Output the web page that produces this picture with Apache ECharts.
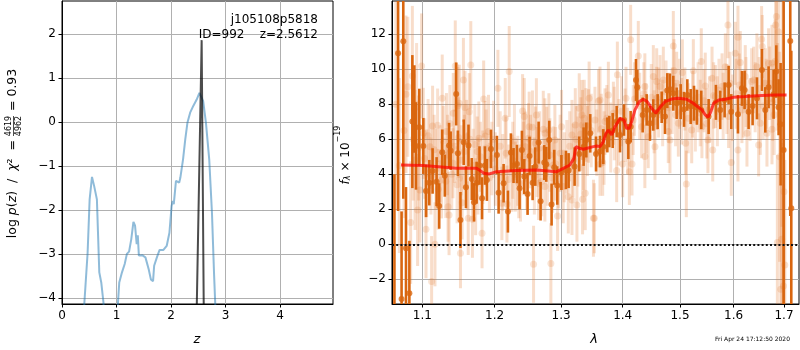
<!DOCTYPE html>
<html><head><meta charset="utf-8">
<script src="https://cdn.jsdelivr.net/npm/echarts@6/dist/echarts.min.js"></script>
<style>html,body{margin:0;padding:0;background:#fff}#c{width:800px;height:350px}</style>
</head><body><div id="c"></div>
<script>
// ---------- left panel: redshift probability ----------
const zTicks = [0, 1, 2, 3, 4];
const logpTicks = [-4, -3, -2, -1, 0, 1, 2];
const zPz = [0.39,0.47,0.507,0.55,0.59,0.64,0.684,0.72,0.76,0.80,1.00,1.026,1.05,1.10,1.15,1.19,1.23,1.27,1.31,1.34,1.37,1.39,1.41,1.47,1.53,1.59,1.63,1.67,1.69,1.74,1.79,1.86,1.92,1.97,2.01,2.03,2.05,2.09,2.12,2.15,2.17,2.22,2.26,2.30,2.35,2.41,2.47,2.52,2.55,2.59,2.64,2.70,2.75,2.79,2.81,2.83];
const logPz = [-4.5,-2.97,-1.76,-1.25,-1.46,-1.76,-3.42,-3.65,-4.1,-5.0,-5.0,-4.12,-3.65,-3.42,-3.23,-3.0,-2.95,-2.67,-2.27,-2.36,-2.78,-2.58,-3.04,-3.03,-3.08,-3.35,-3.58,-3.62,-3.27,-3.08,-2.91,-2.91,-2.82,-2.52,-1.91,-1.80,-1.87,-1.34,-1.34,-1.38,-1.27,-0.85,-0.40,-0.02,0.21,0.37,0.51,0.66,0.62,0.47,-0.02,-0.85,-2.06,-3.50,-4.12,-5.0];
const zPeak = [2.47, 2.5612, 2.60];
const logPeak = [-4.3, 1.86, -4.3];

// ---------- right panel: spectrum ----------
const lamTicks = [1.1, 1.2, 1.3, 1.4, 1.5, 1.6, 1.7];
const fluxTicks = [-2, 0, 2, 4, 6, 8, 10, 12];

const lamDark = [1.0637,1.0684,1.0729,1.0751,1.0786,1.0830,1.0869,1.0895,1.0917,1.0960,1.1013,1.1049,1.1093,1.1137,1.1191,1.1226,1.1267,1.1302,1.1360,1.1382,1.1458,1.1481,1.1517,1.1562,1.1593,1.1629,1.1675,1.1706,1.1743,1.1784,1.1820,1.1861,1.1889,1.1948,
 1.2034,1.2058,1.2131,1.2194,1.2238,1.2277,1.2327,1.2366,1.2401,1.2436,1.2486,1.2516,1.2562,1.2602,1.2653,1.2683,1.2739,1.2770,1.2816,1.2852,1.2893,1.2940,1.3005,1.3076,1.3118,1.3213,1.3287,1.3357,1.3400,1.3464,
 1.3558,1.3623,1.3678,1.3744,1.3777,1.3833,1.3899,1.3955,1.4022,1.4096,1.4135,1.4226,1.4249,1.4341,1.4410,1.4468,1.4526,1.4602,1.4673,1.4732,1.4773,1.4821,1.4880,1.4940,1.5012,1.5073,1.5133,1.5194,1.5255,
 1.5309,1.5389,1.5526,1.5663,1.5745,1.5828,1.5904,1.5955,1.6084,1.6161,1.6213,1.6291,1.6370,1.6456,1.6555,1.6622,1.6688,1.6789,1.6843,1.6890,1.6931,1.6992,1.7129,1.7150];
const fluxDark = [-6.0,10.91,-3.12,11.6,-0.23,-2.8,7.01,7.73,5.62,6.69,5.62,3.05,3.52,4.19,3.58,2.19,5.26,3.92,5.64,5.35,8.59,5.2,1.39,5.83,3.26,5.64,3.73,2.4,3.52,4.5,2.63,4.5,3.68,5.45,
 5.10,2.95,3.49,1.87,5.24,4.50,4.59,3.20,5.39,3.87,2.88,5.05,3.52,4.44,5.81,2.46,4.67,4.57,5.96,2.27,4.40,3.36,4.10,4.25,4.21,4.44,5.16,5.58,5.96,6.34,
 5.16,5.30,5.58,6.25,6.44,6.50,7.01,6.25,7.10,5.87,6.72,9.39,8.97,7.39,7.68,6.91,7.39,7.58,7.83,7.30,8.78,8.86,8.63,8.06,8.15,7.71,8.53,7.87,8.06,
 7.83,7.68,7.30,8.11,7.68,8.25,9.10,7.58,7.43,8.91,8.82,7.58,7.90,8.34,9.96,7.68,8.97,8.57,9.87,7.83,6.86,5.39,11.62,2.06];
const errDark = [10,9,5,9,3.5,3,3.8,2.5,2.5,2.2,1.6,1.5,1.3,1.3,1.4,1.3,1.3,1.2,1.3,1.1,1.8,1.3,1.6,1.3,1.2,1.2,1.2,1.1,1.2,1.1,1.2,1.1,1.2,1.1,
 1.1,1.2,1.1,1.2,1.1,1.0,1.1,1.2,1.1,1.0,1.2,1.1,1.0,1.1,1.2,1.1,1.0,1.0,1.1,1.2,1.0,1.1,1.0,1.1,1.0,1.1,1.0,1.1,1.0,1.1,
 1.0,0.9,1.0,1.0,0.9,1.0,0.9,1.0,0.9,1.0,0.9,1.2,1.0,1.0,0.9,1.0,0.9,1.0,0.9,1.0,1.0,0.9,1.0,0.9,1.0,1.0,0.9,1.0,1.0,
 1.0,1.1,1.0,1.0,1.1,1.0,1.1,1.0,1.1,1.0,1.1,1.0,1.1,1.2,1.2,1.3,1.2,1.4,1.5,1.6,3.5,9,10,9];

// light points with visible circles
const lamLight = [1.0991,1.0786,1.0869,1.0904,1.0847,1.1049,1.0938,1.1124,1.1169,1.1267,1.1137,1.1013,1.1102,1.1324,1.1360,1.1445,1.1558,1.1481,1.1503,1.1580,1.1639,1.1661,1.1517,1.1625,1.1684,1.1820,1.1775,1.1843,1.1866,1.1912,1.1258,1.1414,1.1540,1.1729,1.1346,1.1213,1.1603,1.1752,1.0969,1.1058,
 1.2048,1.2213,1.2155,1.2411,1.2436,1.2510,1.2559,1.2724,1.2749,1.2810,1.2903,1.3007,1.2576,1.2841,1.3287,1.3446,1.3329,1.3367,1.3340,1.3224,1.3171,1.3436,1.3516,1.2945,1.3113,1.3171,1.3250,1.3340,1.3383,1.2254,1.2304,1.2106,1.2180,1.2355,1.2653,1.2749,1.2877,1.2961,1.3033,1.2451,1.2604,1.2500,
 1.4135,1.3911,1.4266,1.3599,1.3761,1.4056,1.3623,1.4526,1.4585,1.4644,1.4702,1.4880,1.4892,1.5043,1.5103,1.5115,1.5243,1.3530,1.3899,1.4113,1.4158,1.3667,1.3623,1.4000,1.4379,1.4555,1.4790,1.4970,1.4585,1.4379,1.4940,1.5213,1.3844,1.3706,1.4437,1.4820,1.4322,1.3541,
 1.5891,1.6084,1.6548,1.6561,1.6845,1.6831,1.6886,1.5389,1.5590,1.5841,1.6129,1.6455,1.6688,1.5401,1.5513,1.5603,1.5955,1.6084,1.6259,1.6489,1.6655,1.6756,1.7018,1.6865,1.6954,1.6934,1.6989,1.5653,1.5779,1.6226,1.6391,1.6622,1.6032,1.5463,1.5904,1.6161,1.6522,1.6756,1.6818,
 1.2619,1.1418,1.1501,1.2777,1.3395];
const fluxLight = [10.19,8.57,9.62,4.82,1.24,0.86,1.96,-2.13,0.00,8.34,6.76,6.34,5.58,6.44,1.68,10.19,9.39,7.92,3.77,7.81,7.58,10.25,-0.51,1.49,1.43,0.63,6.06,8.30,6.19,6.44,3.68,4.63,2.38,2.72,2.15,3.14,6.15,5.30,3.10,4.06,
 8.91,9.87,7.20,7.62,7.30,6.72,6.69,6.57,6.34,6.53,5.96,6.72,-1.14,-1.09,7.77,8.34,7.39,7.20,6.82,6.82,6.25,6.76,1.49,1.62,2.72,2.53,2.25,2.57,2.91,4.06,3.87,2.34,2.30,3.49,3.49,3.30,4.53,4.06,3.30,5.58,5.77,6.06,
 11.68,9.68,10.76,8.19,8.53,8.34,8.25,9.58,9.30,9.01,9.39,11.33,9.92,9.81,5.77,3.45,9.92,1.49,4.21,4.15,4.59,4.67,4.57,4.59,5.01,5.58,6.44,6.91,8.34,9.01,9.20,6.53,7.49,7.01,6.15,5.96,6.72,7.10,
 12.53,11.83,11.71,11.30,13.01,12.53,12.15,10.44,9.49,10.15,10.38,10.15,10.34,6.72,5.96,5.39,4.67,5.39,6.34,5.68,6.34,6.57,-1.18,0.10,0.29,-2.57,-2.38,8.44,9.01,9.58,9.39,9.20,10.91,9.05,7.30,7.68,6.91,10.34,10.44,
 7.39,7.49,8.06,5.86,6.82];
const errLight = [3.0,4.5,4.0,4.0,3.5,2.8,3.2,2.6,2.4,2.5,2.3,2.6,2.4,2.2,2.3,2.6,2.4,2.2,2.3,2.1,2.2,2.5,2.0,2.1,2.2,2.0,2.1,2.2,2.0,2.1,2.2,2.0,2.1,2.2,2.0,2.3,2.1,2.0,3.0,2.5,
 2.2,2.6,2.3,2.1,2.2,2.0,2.1,2.2,2.0,2.1,2.0,2.1,2.2,2.3,2.0,2.1,2.0,2.2,2.0,2.1,2.0,2.1,2.2,2.0,2.1,2.0,2.1,2.0,2.1,2.2,2.0,2.1,2.2,2.0,2.1,2.0,2.2,2.0,2.1,2.0,2.1,2.0,
 2.0,1.9,2.0,1.8,1.9,1.8,1.9,1.8,1.9,1.8,1.9,2.0,1.8,1.9,1.8,1.9,1.8,2.0,1.8,1.9,1.8,1.9,1.8,1.9,1.8,1.9,1.8,1.9,1.8,1.9,1.8,1.9,1.8,1.9,1.8,1.9,1.8,1.9,
 1.9,1.8,1.9,1.8,3.0,3.2,3.0,1.9,1.8,1.9,1.8,1.9,2.0,1.8,1.9,1.8,1.9,1.8,1.9,1.8,1.9,2.0,6.0,5.0,5.5,6.0,6.5,1.8,1.9,1.8,1.9,2.0,1.8,1.9,1.8,1.9,1.8,2.2,2.4,
 2.1,2.3,2.2,2.0,2.1];

// light points inside the dense band (circles hidden under other marks)
const lamBand = [1.1031,1.1077,1.1115,1.1158,1.1181,1.1204,1.1238,1.1281,1.1315,1.1338,1.1371,1.1397,1.1432,1.1470,1.1492,1.1528,1.1571,1.1615,1.1650,1.1695,1.1718,1.1762,1.1797,1.1831,1.1878,1.1925,1.1960,1.1985,
 1.2010,1.2081,1.2118,1.2168,1.2206,1.2265,1.2290,1.2340,1.2380,1.2423,1.2470,1.2530,1.2588,1.2630,1.2668,1.2700,1.2787,1.2826,1.2864,1.2915,1.2985,1.3050,1.3090,
 1.3135,1.3190,1.3238,1.3265,1.3312,1.3355,1.3420,1.3480,1.3570,1.3645,1.3690,1.3735,1.3800,1.3860,1.3935,1.3980,1.4040,1.4085,1.4180,1.4200,
 1.4290,1.4360,1.4400,1.4490,1.4540,1.4620,1.4690,1.4750,1.4800,1.4860,1.4920,1.4990,1.5030,1.5090,1.5150,1.5230,1.5280,1.5330,1.5370,1.5440,1.5490,1.5540,
 1.5620,1.5690,1.5720,1.5800,1.5870,1.5930,1.5980,1.6050,1.6110,1.6190,1.6240,1.6320,1.6350,1.6420,1.6500,1.6580,1.6640,1.6710,1.6770,1.6800,1.6870,
 1.0655,1.0700,1.0760,1.0810,1.0880,1.0925,1.0950,1.6910,1.6960,1.7000];
const fluxBand = [4.9,6.2,3.9,5.4,4.3,6.8,4.6,5.9,3.6,5.1,6.9,4.0,5.6,3.4,6.1,4.8,5.3,4.2,6.0,4.5,5.7,3.9,5.0,4.4,5.5,3.8,4.9,6.0,
 4.3,5.6,4.1,5.2,3.7,4.8,5.9,4.2,3.5,4.9,4.0,5.3,3.9,4.7,5.5,3.6,4.4,5.1,3.8,4.6,5.2,4.4,5.0,
 5.6,4.8,6.0,5.3,6.3,5.0,5.9,6.5,5.8,6.6,5.5,7.2,6.1,6.9,6.4,7.6,6.8,5.9,7.1,8.3,
 7.9,8.6,7.2,8.4,7.0,8.1,7.5,8.7,7.8,8.2,7.4,8.6,7.6,8.3,7.2,8.0,7.1,8.4,7.5,8.2,6.9,7.7,
 8.5,7.6,8.8,7.9,8.3,9.2,7.8,8.6,9.1,8.0,8.7,7.7,9.3,8.4,8.9,7.9,8.6,9.2,8.1,7.4,9.0,
 8.0,4.5,6.5,9.0,6.0,8.0,5.5,5.0,8.0,3.0];
const errBand = [2.3,2.1,2.2,2.0,2.3,2.1,2.2,2.0,2.1,2.3,2.2,2.0,2.1,2.2,2.3,2.0,2.1,2.2,2.0,2.1,2.3,2.2,2.0,2.1,2.2,2.0,2.1,2.2,
 2.1,2.0,2.2,2.1,2.0,2.2,2.1,2.0,2.2,2.1,2.0,2.1,2.2,2.0,2.1,2.0,2.2,2.1,2.0,2.1,2.2,2.0,2.1,
 2.0,2.1,1.9,2.0,2.1,1.9,2.0,2.1,1.9,2.0,2.1,1.9,2.0,2.1,1.9,2.0,2.1,1.9,2.0,2.1,
 1.9,1.8,2.0,1.9,1.8,2.0,1.9,1.8,2.0,1.9,1.8,2.0,1.9,1.8,2.0,1.9,1.8,2.0,1.9,1.8,2.0,1.9,
 1.9,2.0,1.8,1.9,2.0,1.8,1.9,2.0,1.8,1.9,2.0,1.8,1.9,2.0,1.8,1.9,2.0,2.1,2.2,2.3,2.5,
 6,5,5,4,3.5,3.5,3,6,7,7];

const lamModel = [1.0721,1.1013,1.1464,1.1743,1.1847,1.1924,1.2029,1.2322,1.2622,1.2930,1.3034,1.3139,1.3202,1.3234,1.3287,1.3351,1.3514,1.3570,1.3623,1.3678,1.3722,1.3761,1.3816,1.3872,1.3955,1.4022,1.4067,1.4113,1.4152,1.4209,1.4283,1.4352,1.4421,1.4496,1.4572,1.4644,1.4732,1.4851,1.4970,1.5121,1.5243,1.5317,1.5402,1.5464,1.5513,1.5557,1.5620,1.5714,1.5841,1.6000,1.6226,1.6555,1.6825,1.7053];
const fluxModel = [4.53,4.50,4.34,4.34,4.06,4.02,4.15,4.21,4.25,4.15,4.34,4.53,4.91,5.58,5.49,5.43,5.58,5.62,5.58,5.87,6.34,6.53,6.25,6.72,7.20,7.10,6.63,6.63,7.01,7.68,8.15,8.29,8.15,7.77,7.49,7.83,8.15,8.30,8.34,8.29,8.06,7.87,7.68,7.39,7.26,7.49,8.06,8.25,8.29,8.40,8.44,8.50,8.53,8.53];

// ---------- build ----------
const zip2 = (a, b) => a.map((v, i) => [v, b[i]]);
const bars = (l, f, e) => l.map((v, i) => [v, f[i] - e[i], f[i] + e[i]]);
const minus = v => (v < 0 ? '\u2212' + Math.abs(v) : String(v));
const FONT = 'DejaVu Sans';
const GRIDC = '#b0b0b0';
const DARK = '#d9660f';
const LIGHT = 'rgba(226,120,45,0.25)';
const LIGHT_BAR = 'rgba(226,120,45,0.22)';

function errRender(color, w) {
  return function (params, api) {
    const p1 = api.coord([api.value(0), api.value(1)]);
    const p2 = api.coord([api.value(0), api.value(2)]);
    return { type: 'line', shape: { x1: p1[0], y1: p1[1], x2: p2[0], y2: p2[1] },
      style: { stroke: color, lineWidth: w } };
  };
}
function axisCommon(ticks, fmt) {
  return {
    axisLine: { show: true, onZero: false, lineStyle: { color: '#000', width: 1 } },
    axisTick: { show: true, length: 3.5, customValues: ticks, lineStyle: { color: '#000', width: 1 } },
    axisLabel: { customValues: ticks, formatter: fmt, color: '#000', fontFamily: FONT, fontSize: 12, margin: 6 },
    splitLine: { show: true, lineStyle: { color: GRIDC, width: 1 } },
    minorTick: { show: false }, minorSplitLine: { show: false }
  };
}

const chart = echarts.init(document.getElementById('c'), null, { renderer: 'canvas' });
chart.setOption({
  animation: false,
  backgroundColor: '#fff',
  grid: [
    { left: 62, top: 1, width: 271, height: 303, show: true, borderColor: '#000', borderWidth: 1, backgroundColor: 'transparent', containLabel: false, outerBoundsMode: 'none' },
    { left: 392, top: 1, width: 407, height: 303, show: true, borderColor: '#000', borderWidth: 1, backgroundColor: 'transparent', containLabel: false, outerBoundsMode: 'none' }
  ],
  xAxis: [
    Object.assign({ type: 'value', gridIndex: 0, min: 0, max: 4.97 }, axisCommon(zTicks, v => minus(v))),
    Object.assign({ type: 'log', gridIndex: 1, min: 1.0606, max: 1.731, logBase: 10 }, axisCommon(lamTicks, v => (+v).toFixed(1)))
  ],
  yAxis: [
    Object.assign({ type: 'value', gridIndex: 0, min: -4.14, max: 2.75 }, axisCommon(logpTicks, v => minus(v))),
    Object.assign({ type: 'value', gridIndex: 1, min: -3.41, max: 13.9 }, axisCommon(fluxTicks, v => minus(v)))
  ],
  series: [
    { type: 'line', xAxisIndex: 0, yAxisIndex: 0, data: zip2(zPz, logPz), showSymbol: false, symbol: 'none', clip: true,
      lineStyle: { color: '#1f77b4', opacity: 0.5, width: 2 }, z: 3 },
    { type: 'line', xAxisIndex: 0, yAxisIndex: 0, data: zip2(zPeak, logPeak), showSymbol: false, symbol: 'none', clip: true,
      lineStyle: { color: '#000', opacity: 0.7, width: 2 }, z: 4 },
    { type: 'custom', xAxisIndex: 1, yAxisIndex: 1, data: bars(lamBand, fluxBand, errBand), renderItem: errRender(LIGHT_BAR, 3),
      encode: { x: 0, y: [1, 2] }, clip: true, z: 2 },
    { type: 'scatter', xAxisIndex: 1, yAxisIndex: 1, data: zip2(lamBand, fluxBand), symbol: 'circle', symbolSize: 7,
      itemStyle: { color: LIGHT_BAR }, clip: true, z: 2 },
    { type: 'custom', xAxisIndex: 1, yAxisIndex: 1, data: bars(lamLight, fluxLight, errLight), renderItem: errRender(LIGHT, 3),
      encode: { x: 0, y: [1, 2] }, clip: true, z: 2 },
    { type: 'scatter', xAxisIndex: 1, yAxisIndex: 1, data: zip2(lamLight, fluxLight), symbol: 'circle', symbolSize: 7,
      itemStyle: { color: LIGHT }, clip: true, z: 2 },
    { type: 'custom', xAxisIndex: 1, yAxisIndex: 1, data: bars(lamDark, fluxDark, errDark), renderItem: errRender(DARK, 2.6),
      encode: { x: 0, y: [1, 2] }, clip: true, z: 3 },
    { type: 'scatter', xAxisIndex: 1, yAxisIndex: 1, data: zip2(lamDark, fluxDark), symbol: 'circle', symbolSize: 6,
      itemStyle: { color: DARK }, clip: true, z: 3 },
    { type: 'line', xAxisIndex: 1, yAxisIndex: 1, data: zip2(lamModel, fluxModel), showSymbol: false, symbol: 'none', clip: true,
      lineStyle: { color: '#ff0000', opacity: 0.7, width: 3 }, z: 4,
      markLine: { silent: true, symbol: 'none', label: { show: false }, animation: false,
        lineStyle: { color: '#111', type: [2, 2.2], width: 2, opacity: 1 }, data: [{ yAxis: 0 }] } }
  ],
  graphic: [
    { type: 'text', x: 318, y: 20, style: { text: 'j105108p5818', font: '12px "DejaVu Sans"', fill: '#000', align: 'right', verticalAlign: 'middle' }, z: 10 },
    { type: 'text', x: 318, y: 35, style: { text: 'ID=992    z=2.5612', font: '12px "DejaVu Sans"', fill: '#000', align: 'right', verticalAlign: 'middle' }, z: 10 },
    { type: 'text', x: 197, y: 340, style: { text: 'z', font: 'italic 13px "DejaVu Sans"', fill: '#000', align: 'center', verticalAlign: 'middle' } },
    { type: 'text', x: 594, y: 340, style: { text: 'λ', font: 'italic 13px "DejaVu Sans"', fill: '#000', align: 'center', verticalAlign: 'middle' } },
    { type: 'text', x: 790, y: 339, style: { text: 'Fri Apr 24 17:12:50 2020', font: '6px "DejaVu Sans"', fill: '#000', align: 'right', verticalAlign: 'middle' } },
    { type: 'group', x: 13, y: 126, rotation: Math.PI / 2, children: [
      { type: 'text', x: -14, y: 0, style: { text: '{n|log }{i|p}{n|(}{i|z}{n|)  /  }{i|χ}{n|²  =}', align: 'right', verticalAlign: 'middle',
          rich: { n: { fontFamily: FONT, fontSize: 12.5, fill: '#000' }, i: { fontFamily: FONT, fontStyle: 'italic', fontSize: 12.5, fill: '#000' } } } },
      { type: 'text', x: 0, y: -4.5, style: { text: '4619', font: '8px "DejaVu Sans"', fill: '#000', align: 'center', verticalAlign: 'middle' } },
      { type: 'line', shape: { x1: -10, y1: 0.5, x2: 10, y2: 0.5 }, style: { stroke: '#000', lineWidth: 0.7 } },
      { type: 'text', x: 0, y: 5.5, style: { text: '4962', font: '8px "DejaVu Sans"', fill: '#000', align: 'center', verticalAlign: 'middle' } },
      { type: 'text', x: 15, y: 0, style: { text: '= 0.93', font: '12.5px "DejaVu Sans"', fill: '#000', align: 'left', verticalAlign: 'middle' } }
    ] },
    { type: 'text', x: 343, y: 155, rotation: Math.PI / 2, style: {
        text: '{i|f}{sub|λ}{n| × 10}{sup|−19}', align: 'center', verticalAlign: 'middle',
        rich: {
          i: { fontFamily: FONT, fontStyle: 'italic', fontSize: 12, lineHeight: 18, verticalAlign: 'bottom', fill: '#000' },
          n: { fontFamily: FONT, fontSize: 12, lineHeight: 18, verticalAlign: 'bottom', fill: '#000' },
          sub: { fontFamily: FONT, fontStyle: 'italic', fontSize: 8, lineHeight: 6, verticalAlign: 'bottom', fill: '#000' },
          sup: { fontFamily: FONT, fontSize: 8, lineHeight: 8, verticalAlign: 'top', fill: '#000' }
        } } }
  ]
});
</script></body></html>
